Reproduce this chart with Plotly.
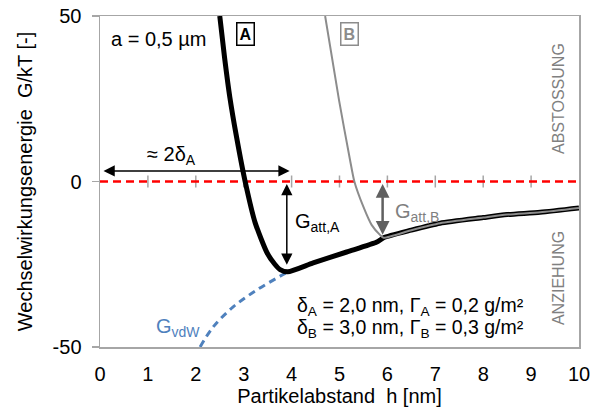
import plotly.graph_objects as go

# ---------------- data ----------------
# van-der-Waals attraction G_vdW(h)
h_vdw = [2.09, 2.36, 2.78, 3.27, 3.76, 3.92, 4.45, 5.15, 5.78, 5.92, 6.5, 7.1, 8.0, 8.5, 9.19, 10.0]
G_vdw = [-50.0, -44.0, -37.9, -32.8, -28.6, -27.3, -24.6, -21.3, -18.3, -17.0, -14.7, -12.6, -10.9, -10.0, -9.3, -8.0]

# total interaction, case A (repulsive branch, h < 2*delta_A)
h_A_rep = [2.50, 2.60, 2.71, 2.85, 3.03, 3.24, 3.49, 3.65, 3.76]
G_A_rep = [50.0, 37.5, 25.5, 13.5, 0.0, -12.5, -21.6, -25.0, -26.6]

# total interaction, case B (repulsive branch, h < 2*delta_B)
h_B_rep = [4.70, 4.99, 5.22, 5.31, 5.50, 5.67, 5.85]
G_B_rep = [50.0, 24.6, 6.5, 0.0, -7.7, -13.1, -16.2]

delta_A = 2.0
delta_B = 3.0
h_min_A = 3.92
h_min_B = 5.92
G_min_A = -27.3
G_min_B = -17.0

x_ticks = [0, 1, 2, 3, 4, 5, 6, 7, 8, 9, 10]
y_ticks = [-50, 0, 50]

# ---------------- derived series ----------------
h_A = h_A_rep + [h for h in h_vdw if h >= h_min_A]
G_A = G_A_rep + [g for h, g in zip(h_vdw, G_vdw) if h >= h_min_A]
h_B = h_B_rep + [h for h in h_vdw if h >= h_min_B]
G_B = G_B_rep + [g for h, g in zip(h_vdw, G_vdw) if h >= h_min_B]
h_v = [h for h in h_vdw if h <= h_min_A]
G_v = [g for h, g in zip(h_vdw, G_vdw) if h <= h_min_A]

FONT = "Liberation Sans, Arial, sans-serif"
GRAY = "#a6a6a6"
FS = 20

fig = go.Figure()

# zero line (red dashed)
fig.add_trace(go.Scatter(x=[x_ticks[0], x_ticks[-1]], y=[0, 0], mode="lines",
                         line=dict(color="#ff0000", width=2.5, dash="8px,5px"),
                         hoverinfo="skip"))
# vdW branch
fig.add_trace(go.Scatter(x=h_v, y=G_v, mode="lines",
                         line=dict(color="#4f81bd", width=3, dash="7px,5px", shape="spline"),
                         hoverinfo="skip"))
# curve A
fig.add_trace(go.Scatter(x=h_A, y=G_A, mode="lines",
                         line=dict(color="#000000", width=5, shape="spline", smoothing=0.6),
                         hoverinfo="skip"))
# curve B
fig.add_trace(go.Scatter(x=h_B, y=G_B, mode="lines",
                         line=dict(color="#8c8c8c", width=2, shape="spline", smoothing=0.6),
                         hoverinfo="skip"))

# crossing tick marks on the zero line
for t in x_ticks[1:-1]:
    fig.add_shape(type="line", xref="x", yref="paper", x0=t, x1=t,
                  y0=0.5 - 6 / 331, y1=0.5 + 6 / 331,
                  line=dict(color=GRAY, width=1.5), layer="below")

anns = []
# double arrow ~2 delta_A
anns.append(dict(x=2 * delta_A, y=3.2, ax=0, ay=3.2, xref="x", yref="y", axref="x", ayref="y",
                 text="", showarrow=True, arrowhead=2, arrowside="end+start",
                 arrowsize=1.5, arrowwidth=1.5, arrowcolor="#000000",
                 standoff=2, startstandoff=2))
anns.append(dict(x=1.5, y=8.0, xref="x", yref="y", text="≈ 2δ<sub>A</sub>",
                 showarrow=False, font=dict(size=FS, color="#000000", family=FONT)))
# G_att,A arrow
anns.append(dict(x=h_min_A - 0.02, y=G_min_A, ax=h_min_A - 0.02, ay=0, xref="x", yref="y",
                 axref="x", ayref="y", text="", showarrow=True, arrowhead=2,
                 arrowside="end+start", arrowsize=1.5, arrowwidth=1.5, arrowcolor="#000000",
                 standoff=7, startstandoff=1))
anns.append(dict(x=4.03, y=-12.5, xref="x", yref="y", text="G<sub>att,A</sub>",
                 xanchor="left", showarrow=False,
                 font=dict(size=FS, color="#000000", family=FONT)))
# G_att,B arrow
anns.append(dict(x=h_min_B - 0.02, y=G_min_B, ax=h_min_B - 0.02, ay=0, xref="x", yref="y",
                 axref="x", ayref="y", text="", showarrow=True, arrowhead=2,
                 arrowside="end+start", arrowsize=1.1, arrowwidth=2.5, arrowcolor="#606060",
                 standoff=3, startstandoff=1))
anns.append(dict(x=6.12, y=-9.3, xref="x", yref="y", text="G<sub>att,B</sub>",
                 xanchor="left", showarrow=False,
                 font=dict(size=FS, color="#7f7f7f", family=FONT)))
# G_vdW label
anns.append(dict(x=1.12, y=-44.0, xref="x", yref="y", text="G<sub>vdW</sub>",
                 xanchor="left", showarrow=False,
                 font=dict(size=FS, color="#4f81bd", family=FONT)))
# particle radius
anns.append(dict(x=0.18, y=43.0, xref="x", yref="y", text="a = 0,5 µm",
                 xanchor="left", showarrow=False,
                 font=dict(size=FS, color="#000000", family=FONT)))
# boxed labels
anns.append(dict(x=3.04, y=44.7, xref="x", yref="y", text="<b>A</b>", showarrow=False,
                 bordercolor="#000000", borderwidth=1.5, borderpad=2,
                 font=dict(size=16, color="#000000", family=FONT)))
anns.append(dict(x=5.2, y=44.7, xref="x", yref="y", text="<b>B</b>", showarrow=False,
                 bordercolor="#8c8c8c", borderwidth=1.5, borderpad=2,
                 font=dict(size=16, color="#8c8c8c", family=FONT)))
# parameters
anns.append(dict(x=4.08, y=-37.9, xref="x", yref="y",
                 text=f"δ<sub>A</sub> = {str(delta_A).replace('.', ',')} nm, Γ<sub>A</sub> = 0,2 g/m²",
                 xanchor="left", showarrow=False,
                 font=dict(size=19.5, color="#000000", family=FONT)))
anns.append(dict(x=4.08, y=-44.3, xref="x", yref="y",
                 text=f"δ<sub>B</sub> = {str(delta_B).replace('.', ',')} nm, Γ<sub>B</sub> = 0,3 g/m²",
                 xanchor="left", showarrow=False,
                 font=dict(size=19.5, color="#000000", family=FONT)))
# region labels
anns.append(dict(x=9.56, y=25.2, xref="x", yref="y", text="ABSTOSSUNG", textangle=-90,
                 showarrow=False, font=dict(size=16, color="#808080", family=FONT)))
anns.append(dict(x=9.56, y=-29.2, xref="x", yref="y", text="ANZIEHUNG", textangle=-90,
                 showarrow=False, font=dict(size=16, color="#808080", family=FONT)))

fig.update_layout(
    width=599, height=410,
    margin=dict(l=100, r=20, t=16, b=63, autoexpand=False),
    paper_bgcolor="white", plot_bgcolor="white",
    showlegend=False, hovermode=False,
    font=dict(family=FONT, size=FS, color="#000000"),
    annotations=anns,
    xaxis=dict(range=[x_ticks[0], x_ticks[-1]], tickvals=x_ticks, ticks="",
               showgrid=False, zeroline=False, showline=True, mirror=True,
               linecolor=GRAY, linewidth=1.5, ticklabelstandoff=8, automargin=False,
               title=dict(text="Partikelabstand  h [nm]", standoff=4,
                          font=dict(size=FS))),
    yaxis=dict(range=[y_ticks[0], y_ticks[-1]], tickvals=y_ticks,
               ticktext=[str(v) for v in y_ticks], ticks="outside",
               ticklen=7, tickcolor=GRAY, tickwidth=1.5, automargin=False,
               showgrid=False, zeroline=False, showline=True, mirror=True,
               linecolor=GRAY, linewidth=1.5, ticklabelstandoff=6,
               title=dict(text="Wechselwirkungsenergie  G/kT [-]", standoff=14,
                          font=dict(size=FS))),
)

fig.write_html("out.html", config={"displayModeBar": False, "staticPlot": True},
               post_script="document.body.style.margin='0';document.body.style.overflow='hidden';")
